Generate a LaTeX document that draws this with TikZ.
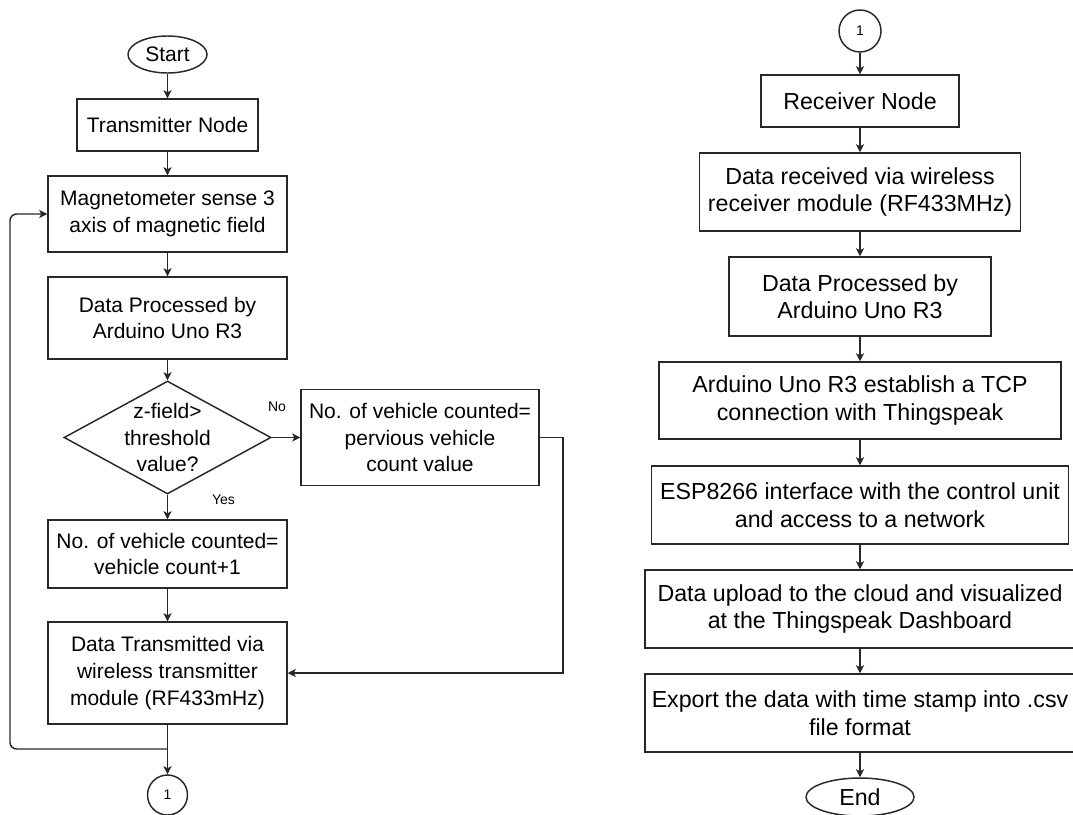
\documentclass[tikz,border=0pt]{standalone}
\usepackage{fontspec}
\setmainfont{Liberation Sans}
\usepackage{xcolor}
\usetikzlibrary{shapes.geometric,arrows.meta}
\definecolor{linegray}{RGB}{40,40,40}
\tikzstyle{process}=[
    rectangle,
    draw=linegray,
    line width=1.1pt,
    text centered,
    align=center,
    inner sep=0pt,
    text=black,
    font=\fontsize{15.75}{20}\selectfont]
\tikzstyle{rxprocess}=[process, font=\fontsize{17.4}{20.6}\selectfont]
\tikzstyle{terminal}=[
    ellipse,
    draw=linegray,
    line width=1.1pt,
    inner sep=0pt,
    text=black,
    font=\fontsize{15.75}{20}\selectfont]
\tikzstyle{decision}=[
    diamond,
    draw=linegray,
    line width=1.1pt,
    inner sep=0pt]
\tikzstyle{connector}=[
    circle,
    draw=linegray,
    line width=1.1pt,
    inner sep=0pt,
    minimum size=40*0.75pt,
    font=\fontsize{10.5}{12}\selectfont]
\tikzstyle{answer}=[inner sep=0pt, text=black, font=\fontsize{10.5}{12}\selectfont]
\tikzstyle{flow}=[draw=linegray, line width=1.1pt, -{Stealth[length=6pt,width=6pt,inset=1.5pt]}]

\begin{document}
\begin{tikzpicture}[x=0.75pt,y=0.75pt,yscale=-1,xscale=1]
\useasboundingbox (0,0) rectangle (1073,814);

%Left column: transmitter side
\node[terminal, minimum width=79*0.75pt, minimum height=37*0.75pt] (start) at (167.5,54.5) {Start};
\node[process, minimum width=181*0.75pt, minimum height=52*0.75pt] (txnode) at (167.5,125) {Transmitter Node};
\node[process, minimum width=239*0.75pt, minimum height=76*0.75pt] (magnet) at (167.5,214) {Magnetometer sense 3\\axis of magnetic field};
\node[process, minimum width=239*0.75pt, minimum height=82*0.75pt] (procL) at (167.5,318) {Data Processed by\\Arduino Uno R3};
\node[decision, minimum width=207*0.75pt, minimum height=113*0.75pt,
      label={[align=center, text=black, font=\fontsize{15.75}{20}\selectfont]center:z-field>\\threshold\\value?}] (decide) at (167.5,437.5) {};
\node[process, minimum width=238*0.75pt, minimum height=96*0.75pt] (nobox) at (420,437.5) {No. of vehicle counted=\\pervious vehicle\\count value};
\node[process, minimum width=239*0.75pt, minimum height=68*0.75pt] (yesbox) at (167.5,554) {No. of vehicle counted=\\vehicle count+1};
\node[process, minimum width=239*0.75pt, minimum height=102*0.75pt] (txdata) at (167.5,673) {Data Transmitted via\\wireless transmitter\\module (RF433mHz)};
\node[connector] (conL) at (167.5,795) {1};

% Text Node
\node[answer] (nolbl) at (277,407) {No};
\node[answer] (yeslbl) at (223.5,499.5) {Yes};

%Right column: receiver side
\node[connector, minimum size=42*0.75pt] (conR) at (860,31) {1};
\node[rxprocess, minimum width=198*0.75pt, minimum height=52*0.75pt] (rxnode) at (860,101) {Receiver Node};
\node[rxprocess, minimum width=321*0.75pt, minimum height=78*0.75pt] (rxdata) at (860,192) {Data received via wireless\\receiver module (RF433MHz)};
\node[rxprocess, minimum width=262*0.75pt, minimum height=79*0.75pt] (procR) at (860,296.5) {Data Processed by\\Arduino Uno R3};
\node[rxprocess, minimum width=402*0.75pt, minimum height=77*0.75pt] (tcp) at (860,400.5) {Arduino Uno R3 establish a TCP\\connection with Thingspeak};
\node[rxprocess, minimum width=417*0.75pt, minimum height=78*0.75pt] (esp) at (860,505) {ESP8266 interface with the control unit\\and access to a network};
\node[rxprocess, minimum width=430*0.75pt, minimum height=78*0.75pt] (upload) at (860,609) {Data upload to the cloud and visualized\\at the Thingspeak Dashboard};
\node[rxprocess, minimum width=430*0.75pt, minimum height=78*0.75pt] (export) at (860,713) {Export the data with time stamp into .csv\\file format};
\node[terminal, font=\fontsize{17.4}{20.6}\selectfont, minimum width=108*0.75pt, minimum height=38*0.75pt] (finish) at (860,797) {End};

%Straight Lines: left column
\draw[flow] (start) -- (txnode);
\draw[flow] (txnode) -- (magnet);
\draw[flow] (magnet) -- (procL);
\draw[flow] (procL) -- (decide);
\draw[flow] (decide) -- (nobox);
\draw[flow] (decide) -- (yesbox);
\draw[flow] (yesbox) -- (txdata);
\draw[flow] (nobox.east) -- (563,437.5) |- (txdata.east);
\draw[flow] (txdata) -- (conL);
\coordinate (loopstart) at (167.5,749);
\draw[flow, rounded corners=5pt] (loopstart) -- (10,749) |- (magnet.west);

%Straight Lines: right column
\draw[flow] (conR) -- (rxnode);
\draw[flow] (rxnode) -- (rxdata);
\draw[flow] (rxdata) -- (procR);
\draw[flow] (procR) -- (tcp);
\draw[flow] (tcp) -- (esp);
\draw[flow] (esp) -- (upload);
\draw[flow] (upload) -- (export);
\draw[flow] (export) -- (finish);

\end{tikzpicture}
\end{document}
